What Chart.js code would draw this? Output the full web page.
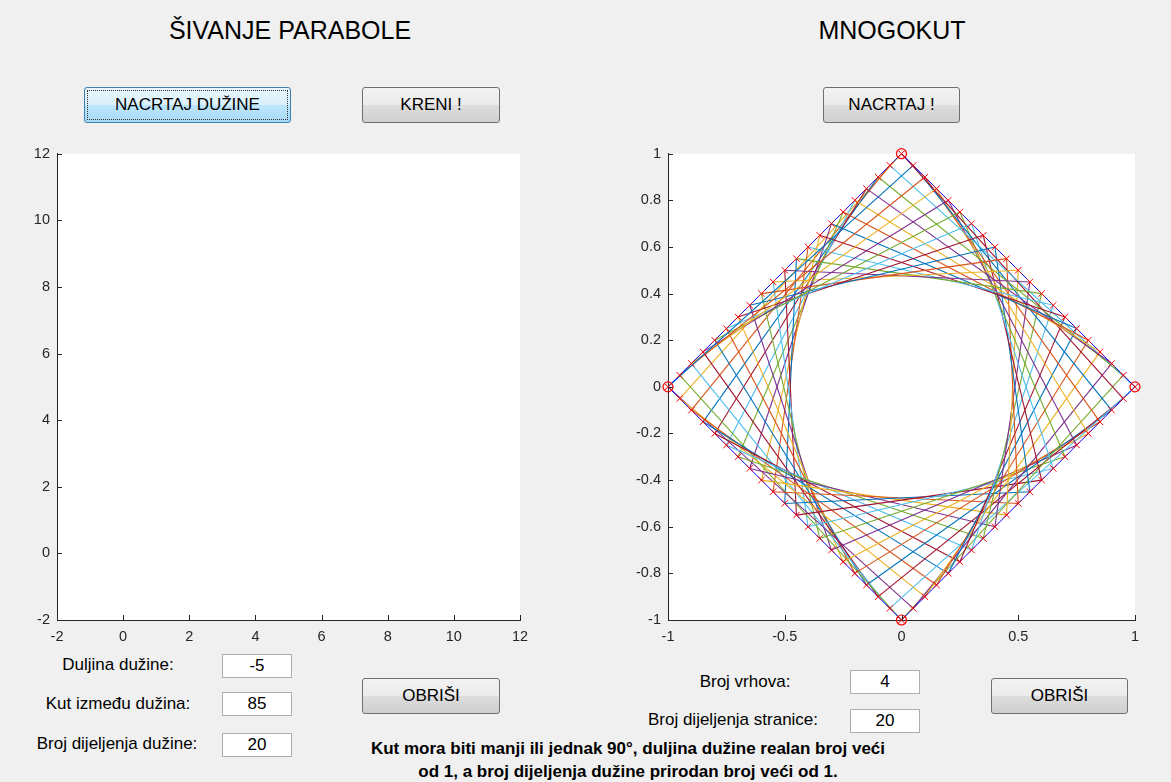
<!DOCTYPE html>
<html>
<head>
<meta charset="utf-8">
<script src="https://cdn.jsdelivr.net/npm/chart.js@4/dist/chart.umd.min.js"></script>
<style>
  body { margin: 0; background: #f0f0f0; font-family: Arial, "Liberation Sans", sans-serif; }
  #page { position: relative; width: 1171px; height: 782px; background: #f0f0f0; overflow: hidden; }
  .title { position: absolute; top: 15px; font-size: 25px; line-height: 30px; color: #000; transform: translateX(-50%); white-space: nowrap; }
  .btn { position: absolute; box-sizing: border-box; height: 36px; border: 1px solid #707070; border-radius: 3px;
         background: linear-gradient(#f2f2f2 0%, #ebebeb 50%, #dddddd 51%, #cfcfcf 100%);
         font-size: 17px; color: #000; display: flex; align-items: center; justify-content: center; }
  .btn.focus { border-color: #3c7fb1; background: linear-gradient(#eaf6fd 0%, #d9f0fc 50%, #bee6fd 51%, #a7d9f5 100%); }
  .btn.focus::after { content: ""; position: absolute; left: 2px; top: 2px; right: 2px; bottom: 2px; border: 1px dotted #333; }
  .lbl { position: absolute; font-size: 17px; line-height: 20px; color: #000; white-space: nowrap; transform: translateX(-50%); }
  .box { position: absolute; box-sizing: border-box; width: 70px; height: 24px; background: #fff; border: 1px solid #abadb3;
         font-size: 17px; text-align: center; line-height: 22px; }
  .note { position: absolute; left: 628px; transform: translateX(-50%); font-size: 17px; line-height: 20px; font-weight: bold; white-space: nowrap; }
  canvas { position: absolute; }
</style>
</head>
<body>
<div id="page">
  <div class="title" style="left:290px">ŠIVANJE PARABOLE</div>
  <div class="title" style="left:892px">MNOGOKUT</div>

  <div class="btn focus" style="left:84px;top:87px;width:207px">NACRTAJ DUŽINE</div>
  <div class="btn" style="left:362px;top:87px;width:138px">KRENI !</div>
  <div class="btn" style="left:823px;top:87px;width:137px">NACRTAJ !</div>

  <div id="leftWrap" style="position:absolute;left:0;top:138px;width:540px;height:512px"><canvas id="leftChart"></canvas></div>
  <div id="rightWrap" style="position:absolute;left:610px;top:138px;width:560px;height:512px"><canvas id="rightChart"></canvas></div>

  <div class="lbl" style="left:118px;top:655px">Duljina dužine:</div>
  <div class="box" style="left:222px;top:654px">-5</div>
  <div class="lbl" style="left:118px;top:694px">Kut između dužina:</div>
  <div class="box" style="left:222px;top:692px">85</div>
  <div class="lbl" style="left:117px;top:734px">Broj dijeljenja dužine:</div>
  <div class="box" style="left:222px;top:733px">20</div>
  <div class="btn" style="left:362px;top:678px;width:138px">OBRIŠI</div>

  <div class="lbl" style="left:745px;top:672px">Broj vrhova:</div>
  <div class="box" style="left:850px;top:670px">4</div>
  <div class="lbl" style="left:733px;top:710px">Broj dijeljenja stranice:</div>
  <div class="box" style="left:850px;top:709px">20</div>
  <div class="btn" style="left:991px;top:678px;width:137px">OBRIŠI</div>

  <div class="note" style="top:739px">Kut mora biti manji ili jednak 90°, duljina dužine realan broj veći</div>
  <div class="note" style="top:762px">od 1, a broj dijeljenja dužine prirodan broj veći od 1.</div>
</div>

<script>
// polygon (MNOGOKUT) input
const vertexX = [0, 1, 0, -1];
const vertexY = [1, 0, -1, 0];
const divisions = 20;

// tick labels
const leftXTicks = [-2, 0, 2, 4, 6, 8, 10, 12];
const leftYTicks = [-2, 0, 2, 4, 6, 8, 10, 12];
const rightXTicks = [-1, -0.5, 0, 0.5, 1];
const rightYTicks = [-1, -0.8, -0.6, -0.4, -0.2, 0, 0.2, 0.4, 0.6, 0.8, 1];

const lineColors = ['#0072BD', '#D95319', '#EDB120', '#7E2F8E', '#77AC30', '#4DBEEE', '#A2142F'];
const axisColor = '#262626';
const tickFont = { family: 'Arial, "Liberation Sans", sans-serif', size: 14.5 };

// MATLAB-style inward ticks
const inwardTicks = {
  id: 'inwardTicks',
  afterDatasetsDraw(chart) {
    const ctx = chart.ctx, a = chart.chartArea;
    ctx.save();
    ctx.strokeStyle = axisColor;
    ctx.lineWidth = 1;
    chart.scales.x.ticks.forEach(t => {
      const px = Math.round(chart.scales.x.getPixelForValue(t.value)) + 0.5;
      ctx.beginPath(); ctx.moveTo(px, a.bottom); ctx.lineTo(px, a.bottom - 5); ctx.stroke();
    });
    chart.scales.y.ticks.forEach(t => {
      const py = Math.round(chart.scales.y.getPixelForValue(t.value)) + 0.5;
      ctx.beginPath(); ctx.moveTo(a.left, py); ctx.lineTo(a.left + 5, py); ctx.stroke();
    });
    ctx.restore();
  }
};

const whiteArea = {
  id: 'whiteArea',
  beforeDraw(chart) {
    const ctx = chart.ctx, a = chart.chartArea;
    ctx.save();
    ctx.fillStyle = '#ffffff';
    ctx.fillRect(a.left, a.top, a.right - a.left, a.bottom - a.top);
    ctx.restore();
  }
};

function axes(xTicks, yTicks, yWidth) {
  const fmt = v => String(Math.round(v * 100) / 100);
  return {
    x: {
      type: 'linear', min: xTicks[0], max: xTicks[xTicks.length - 1],
      afterBuildTicks: s => { s.ticks = xTicks.map(v => ({ value: v })); },
      afterFit: s => { s.height = 30; },
      grid: { display: false, drawTicks: false },
      border: { display: true, color: axisColor, width: 1 },
      ticks: { color: axisColor, font: tickFont, padding: 8, maxRotation: 0, callback: fmt }
    },
    y: {
      type: 'linear', min: yTicks[0], max: yTicks[yTicks.length - 1],
      afterBuildTicks: s => { s.ticks = yTicks.map(v => ({ value: v })); },
      afterFit: s => { s.width = yWidth; },
      grid: { display: false, drawTicks: false },
      border: { display: true, color: axisColor, width: 1 },
      ticks: { color: axisColor, font: tickFont, padding: 7, callback: fmt }
    }
  };
}

const baseOptions = {
  responsive: true,
  maintainAspectRatio: false,
  animation: false,
  plugins: { legend: { display: false }, tooltip: { enabled: false } },
  elements: { point: { radius: 0 } }
};

// left chart: empty axes
new Chart(document.getElementById('leftChart'), {
  type: 'scatter',
  data: { datasets: [] },
  options: Object.assign({}, baseOptions, {
    layout: { padding: { top: 11, right: 20, left: 0, bottom: 0 } },
    scales: axes(leftXTicks, leftYTicks, 57)
  }),
  plugins: [whiteArea, inwardTicks]
});

// right chart: string art between adjacent sides of the polygon
const nV = vertexX.length;
function sidePoint(k, i) {
  const a = k % nV, b = (k + 1) % nV;
  return { x: vertexX[a] + (vertexX[b] - vertexX[a]) * i / divisions,
           y: vertexY[a] + (vertexY[b] - vertexY[a]) * i / divisions };
}

const datasets = [];
const marks = [];
for (let k = 0; k < nV; k++) {
  for (let i = 1; i < divisions; i++) marks.push(sidePoint(k, i));
}
const corners = vertexX.map((x, k) => ({ x, y: vertexY[k] }));

datasets.push({ data: marks, showLine: false, pointStyle: 'crossRot', pointRadius: 4.5, borderColor: '#ff0000',
                pointBorderWidth: 1, order: 0, clip: false });
datasets.push({ data: corners, showLine: false, pointStyle: 'crossRot', pointRadius: 4.5, borderColor: '#ff0000',
                pointBorderWidth: 1, order: 0, clip: false });
datasets.push({ data: corners, showLine: false, pointStyle: 'circle', pointRadius: 5, borderColor: '#ff0000',
                backgroundColor: 'transparent', pointBorderWidth: 1.2, order: 0, clip: false });
datasets.push({ data: corners.concat([corners[0]]), showLine: true, borderColor: '#0000ff', borderWidth: 1,
                pointRadius: 0, order: 1 });

let c = 0;
for (let k = 0; k < nV; k++) {
  const prev = (k + nV - 1) % nV;
  for (let i = 0; i < divisions; i++) {
    datasets.push({
      data: [sidePoint(prev, i), sidePoint(k, i + 1)],
      showLine: true, borderColor: lineColors[c % lineColors.length], borderWidth: 1.1,
      pointRadius: 0, order: 2
    });
    c++;
  }
}

new Chart(document.getElementById('rightChart'), {
  type: 'scatter',
  data: { datasets },
  options: Object.assign({}, baseOptions, {
    layout: { padding: { top: 11, right: 35, left: 0, bottom: 0 } },
    scales: axes(rightXTicks, rightYTicks, 58)
  }),
  plugins: [whiteArea, inwardTicks]
});
</script>
</body>
</html>
